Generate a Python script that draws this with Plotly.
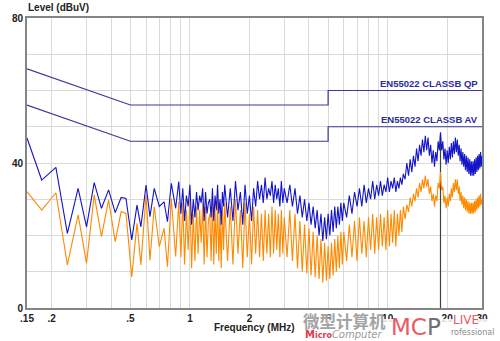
import plotly.graph_objects as go

# ---- data -------------------------------------------------------------
freq_low = [0.15, 0.178, 0.21, 0.24, 0.272, 0.30, 0.328, 0.357, 0.388, 0.419, 0.449, 0.475,
            0.508, 0.54, 0.565, 0.60, 0.628, 0.66, 0.70, 0.74, 0.77, 0.805, 0.847, 0.878]
qp_low = [46.9, 35.3, 38.8, 20.6, 33.0, 22.4, 34.6, 27.5, 32.6, 26.3, 30.5, 30.2,
          18.8, 28.4, 22.4, 33.9, 25.2, 33.0, 28.0, 29.3, 23.8, 34.4, 27.5, 34.9]
av_low = [32.1, 27.0, 31.8, 11.9, 25.7, 12.3, 31.2, 19.7, 29.8, 18.3, 26.6, 26.1,
          8.6, 23.4, 11.9, 31.2, 13.2, 28.0, 16.9, 22.0, 11.4, 30.2, 14.2, 29.3]

freq_a = [0.90, 0.92, 0.94, 0.96, 0.98, 1.00, 1.02, 1.04, 1.06, 1.08, 1.10, 1.12, 1.14, 1.16,
          1.18, 1.20, 1.22, 1.24, 1.26, 1.28, 1.30, 1.32, 1.34, 1.36, 1.38, 1.40, 1.42, 1.44,
          1.46, 1.48, 1.50]
qp_a = [26, 33, 24, 31, 28, 34, 23, 30, 25, 32, 27, 31, 29, 33, 24, 32, 26, 29, 30, 25,
        33, 24, 31, 27, 34, 26, 30, 23, 32, 28, 34]
av_a = [14, 29, 12, 27, 16, 30, 11, 26, 13, 28, 15, 27, 18, 29, 12, 28, 14, 24, 26, 13,
        30, 12, 27, 15, 30, 13, 26, 11, 28, 16, 29]

freq_b = [1.55, 1.60, 1.65, 1.70, 1.75, 1.80, 1.85, 1.90, 1.95, 2.00, 2.05, 2.10, 2.15, 2.20,
          2.25, 2.30, 2.35, 2.40, 2.45, 2.50, 2.55, 2.60, 2.65, 2.70, 2.75, 2.80, 2.85, 2.90,
          2.95, 3.00]
qp_b = [25, 33, 24, 35, 27, 32, 23, 34, 26, 31, 24, 33, 28, 35, 30, 34, 29, 36, 30, 33,
        31, 35, 29, 34, 30, 33, 28, 35, 29, 33]
av_b = [13, 28, 12, 30, 15, 27, 11, 29, 14, 26, 12, 28, 15, 27, 14, 26, 13, 27, 15, 26,
        14, 28, 15, 27, 16, 26, 14, 27, 15, 25]

freq_c = [3.1, 3.2, 3.3, 3.4, 3.5, 3.6, 3.7, 3.8, 3.9, 4.0, 4.1, 4.2, 4.3, 4.4, 4.5, 4.6,
          4.7, 4.8, 4.9, 5.0, 5.1, 5.2, 5.3, 5.4, 5.5, 5.6, 5.7, 5.8, 5.9, 6.0]
qp_c = [29, 34, 28, 33, 26, 31, 25, 30, 24, 29, 23, 28, 22, 27, 20, 26, 18.5, 25, 19, 26,
        20, 27, 21, 28, 22, 28, 23, 29, 24, 29]
av_c = [14, 27, 13, 26, 11, 24, 10, 23, 9.5, 22, 9, 21, 8.5, 20, 8, 19, 7, 18, 7.5, 17,
        8, 18, 9, 19, 10, 20, 11, 21, 12, 21]

freq_d = [6.2, 6.4, 6.6, 6.8, 7.0, 7.2, 7.4, 7.6, 7.8, 8.0, 8.2, 8.4, 8.6, 8.8, 9.0, 9.2,
          9.4, 9.6, 9.8, 10.0, 10.2, 10.4, 10.6, 10.8, 11.0, 11.2, 11.4, 11.6, 11.8, 12.0]
qp_d = [25, 31, 26, 32, 28, 33, 28, 34, 29, 33, 30, 35, 30, 34, 31, 35, 31, 34, 32, 36,
        32, 35, 33, 36, 32, 35, 33, 36, 34, 37]
av_d = [13, 23, 14, 24, 13, 25, 15, 24, 14, 25, 16, 26, 15, 25, 16, 26, 17, 25, 16, 27,
        17, 26, 18, 27, 17, 26, 20, 27, 21, 28]

freq_e = [12.25, 12.5, 12.75, 13.0, 13.25, 13.5, 13.75, 14.0, 14.25, 14.5, 14.75, 15.0,
          15.25, 15.5, 15.75, 16.0, 16.25, 16.5, 16.75, 17.0, 17.25, 17.5, 17.75, 18.0,
          18.25, 18.5, 18.75, 19.0, 19.25, 19.5, 19.75, 20.0, 20.25, 20.5, 20.75, 21.0,
          21.25, 21.5, 21.75, 22.0, 22.25, 22.5, 22.75, 23.0, 23.25, 23.5, 23.75, 24.0,
          24.25, 24.5, 24.75, 25.0, 25.25, 25.5, 25.75, 26.0, 26.25, 26.5, 26.75, 27.0,
          27.25, 27.5, 27.75, 28.0, 28.25, 28.5, 28.75, 29.0, 29.25, 29.5, 29.75, 30.0]
qp_e = [35.5, 40, 36.5, 41, 37.5, 42, 39, 44, 40.5, 45, 42, 46.5,
        43, 47.5, 43.5, 47, 42, 45, 40, 43.5, 39, 43, 40.5, 46,
        43.5, 48.5, 43.5, 46, 41, 44, 39.5, 43.5, 40, 44.5, 41, 45.5,
        41.5, 46, 42.5, 47, 43, 46.5, 42, 45, 40.5, 44, 39.5, 43,
        39, 42.5, 38, 42, 37.5, 41.5, 37, 41, 36.5, 40.5, 36.5, 40.5,
        36.5, 41, 37, 41.5, 37.5, 42, 38, 42.5, 38.5, 43, 39, 42]
av_e = [24.5, 28.5, 26.5, 30.5, 28, 31.5, 29.5, 33, 30.5, 34.5, 32, 35.5,
        33, 36.5, 33.5, 35.5, 31.5, 33.5, 29.5, 31.5, 28, 31, 29.5, 34.5,
        33, 37.5, 32.5, 33.5, 29, 31, 27.5, 30.5, 28, 31.5, 29.5, 33,
        30.5, 34.5, 32, 35.5, 32.5, 35.5, 31.5, 33.5, 29.5, 32, 28.5, 31,
        27.5, 30.5, 27, 30, 26.5, 29.5, 26, 29, 26, 29, 26, 29,
        26, 29.5, 26.5, 30, 27, 30.5, 27.5, 31, 28, 31.5, 28.5, 30]

limit_freq = [0.15, 0.5, 5, 5, 30]
limit_qp = [66, 56, 56, 60, 60]
limit_av = [56, 46, 46, 50, 50]
marker_freq = 18.5
marker_level = 48

x_tick_vals = [0.2, 0.3, 0.4, 0.5, 0.6, 0.7, 0.8, 0.9, 1, 2, 3, 4, 5, 6, 7, 8, 9, 10, 20, 30, 0.15]
x_tick_text = [".2", "", "", ".5", "", "", "", "", "1", "2", "", "", "5", "", "", "", "", "10", "20", "30", ".15"]
y_tick_vals = [0, 10, 20, 30, 40, 50, 60, 70, 80]
y_tick_text = ["0", "", "", "", "40", "", "", "", "80"]

freq = freq_low + freq_a + freq_b + freq_c + freq_d + freq_e
qp = qp_low + qp_a + qp_b + qp_c + qp_d + qp_e
av = av_low + av_a + av_b + av_c + av_d + av_e

# ---- figure -----------------------------------------------------------
FONT = "Liberation Sans, Arial, sans-serif"
fig = go.Figure()

fig.add_trace(go.Scatter(x=limit_freq, y=limit_qp, mode="lines",
                         line=dict(color="#3a3a96", width=1.2), hoverinfo="skip"))
fig.add_trace(go.Scatter(x=limit_freq, y=limit_av, mode="lines",
                         line=dict(color="#3a3a96", width=1.2), hoverinfo="skip"))
fig.add_trace(go.Scatter(x=[marker_freq, marker_freq], y=[0, marker_level], mode="lines",
                         line=dict(color="#404040", width=1.2), hoverinfo="skip"))
fig.add_trace(go.Scatter(x=freq, y=av, mode="lines",
                         line=dict(color="#ff8a00", width=1.1)))
fig.add_trace(go.Scatter(x=freq, y=qp, mode="lines",
                         line=dict(color="#1414c8", width=1.1)))

tick_font = dict(family=FONT, size=10, color="#222222")
fig.update_xaxes(type="log", range=[-0.8239, 1.4771],
                 tickvals=x_tick_vals, ticktext=["<b>%s</b>" % t if t else "" for t in x_tick_text],
                 showgrid=True, gridcolor="#d9d9d9", gridwidth=1,
                 showline=True, linecolor="#858585", linewidth=2, mirror=True,
                 ticks="", tickfont=tick_font, zeroline=False)
fig.update_yaxes(range=[0, 80], tickvals=y_tick_vals,
                 ticktext=["<b>%s</b>" % t if t else "" for t in y_tick_text],
                 showgrid=True, gridcolor="#d9d9d9", gridwidth=1,
                 showline=True, linecolor="#858585", linewidth=2, mirror=True,
                 ticks="", tickfont=tick_font, zeroline=False)

L, R, T, B = 25, 17, 18, 33
W, H = 500, 341
pw, ph = W - L - R, H - T - B


def px(x):
    return (x - L) / pw


def py(y):
    return (H - B - y) / ph


ann = []
ann.append(dict(text="<b>Level (dBuV)</b>", x=px(24), y=py(15), xref="paper", yref="paper",
                xanchor="left", yanchor="bottom", showarrow=False,
                font=dict(family=FONT, size=10, color="#222222")))
ann.append(dict(text="<b>Frequency (MHz)</b>", x=px(254), y=py(327), xref="paper", yref="paper",
                xanchor="center", yanchor="middle", showarrow=False,
                font=dict(family=FONT, size=10, color="#222222")))
for txt, lvl in [("EN55022 CLASSB QP", 60), ("EN55022 CLASSB AV", 50)]:
    ann.append(dict(text="<b>%s</b>" % txt, x=px(481), y=lvl, xref="paper", yref="y",
                    xanchor="right", yanchor="bottom", yshift=0, showarrow=False,
                    font=dict(family=FONT, size=9.5, color="#2b2b9e")))

# watermark
ann.append(dict(text="<b>微型计算机</b>", x=px(345), y=py(321), xref="paper", yref="paper",
                xanchor="center", yanchor="middle", showarrow=False,
                font=dict(family="Noto Sans CJK SC", size=16.5, color="#a3a3a3")))
ann.append(dict(text="<b><span style='color:#d8404c'>M</span><span style='color:#d8404c;font-size:8px'>icro</span></b><i>Computer</i>",
                x=px(344), y=py(334), xref="paper", yref="paper",
                xanchor="center", yanchor="middle", showarrow=False,
                font=dict(family="DejaVu Sans", size=10, color="#9a9a9a")))
ann.append(dict(text="MC<span style='color:#707070'>P</span>", x=px(389), y=py(327), xref="paper", yref="paper",
                xanchor="left", yanchor="middle", showarrow=False,
                font=dict(family="DejaVu Sans", size=23, color="#ea5a64")))
ann.append(dict(text="LIVE", x=px(452), y=py(320), xref="paper", yref="paper",
                xanchor="left", yanchor="middle", showarrow=False,
                font=dict(family="DejaVu Sans", size=12, color="#ea5a64")))
ann.append(dict(text="rofessional", x=px(450), y=py(332), xref="paper", yref="paper",
                xanchor="left", yanchor="middle", showarrow=False,
                font=dict(family="DejaVu Sans", size=8, color="#8a8a8a")))

shapes = [dict(type="rect", xref="paper", yref="paper", x0=px(298), x1=px(500),
               y0=py(341), y1=py(319), fillcolor="white", opacity=0.85,
               line=dict(width=0), layer="above")]

fig.update_layout(width=W, height=H, margin=dict(l=L, r=R, t=T, b=B),
                  paper_bgcolor="white", plot_bgcolor="white", showlegend=False,
                  annotations=ann, shapes=shapes)

fig.write_html("out.html", config={"displayModeBar": False},
               post_script="document.body.style.margin='0';document.body.style.padding='0';"
                           "document.body.style.overflow='hidden';")
